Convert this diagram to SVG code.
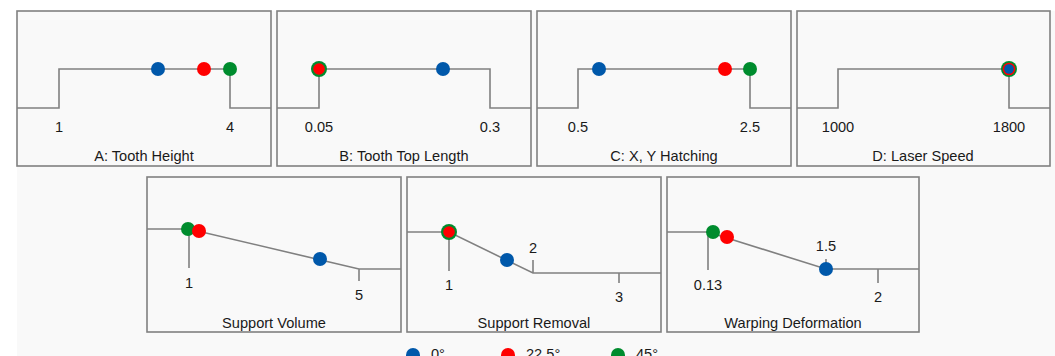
<svg xmlns="http://www.w3.org/2000/svg" width="1055" height="356" viewBox="0 0 1055 356">
<style>
.box{fill:#f9f9f9;stroke:#808080;stroke-width:1.6}
.ln{fill:none;stroke:#808080;stroke-width:1.6}
.t{font-family:"Liberation Sans",Arial,sans-serif;font-size:14.6px;fill:#1a1a1a;text-anchor:middle}
.b{fill:#0058aa}.r{fill:#ff0000}.g{fill:#008c2e}
</style>
<rect width="1055" height="356" fill="#ffffff"/>
<rect x="17" y="11" width="1038" height="345" fill="#f9f9f9"/>
<g id="panelA">
<rect class="box" x="17" y="11" width="254" height="155"/>
<text class="t" x="59" y="132">1</text><text class="t" x="230" y="132">4</text>
<text class="t" x="144" y="161">A: Tooth Height</text>
</g>
<g id="panelB">
<rect class="box" x="277" y="11" width="254" height="155"/>
<text class="t" x="319" y="132">0.05</text><text class="t" x="490" y="132">0.3</text>
<text class="t" x="404" y="161">B: Tooth Top Length</text>
</g>
<g id="panelC">
<rect class="box" x="537" y="11" width="254" height="155"/>
<text class="t" x="578" y="132">0.5</text><text class="t" x="750" y="132">2.5</text>
<text class="t" x="664" y="161">C: X, Y Hatching</text>
</g>
<g id="panelD">
<rect class="box" x="797" y="11" width="253" height="155"/>
<text class="t" x="838" y="132">1000</text><text class="t" x="1009" y="132">1800</text>
<text class="t" x="923" y="161">D: Laser Speed</text>
</g>
<g id="panelE">
<rect class="box" x="147" y="177" width="254" height="155"/>
<text class="t" x="189" y="288">1</text><text class="t" x="359" y="300">5</text>
<text class="t" x="274" y="328">Support Volume</text>
</g>
<g id="panelF">
<rect class="box" x="407" y="177" width="254" height="155"/>
<text class="t" x="449" y="290">1</text><text class="t" x="533" y="253">2</text><text class="t" x="619" y="302">3</text>
<text class="t" x="534" y="328">Support Removal</text>
</g>
<g id="panelG">
<rect class="box" x="667" y="177" width="252" height="155"/>
<text class="t" x="708" y="290">0.13</text><text class="t" x="826" y="251">1.5</text><text class="t" x="878" y="302">2</text>
<text class="t" x="793" y="328">Warping Deformation</text>
</g>
<g id="connectors">
<path class="ln" d="M17 108H59V69H230V108H271"/>
<path class="ln" d="M277 108H319V69H490V108H531"/>
<path class="ln" d="M537 108H578V69H750V108H791"/>
<path class="ln" d="M797 108H838V69H1009V108H1050"/>
<path class="ln" d="M147 229H189L359 269H401M189 229V268M359 269V281"/>
<path class="ln" d="M407 232H449L533 273H661M449 232V271M533 260V273M619 273V283"/>
<path class="ln" d="M667 232H708L826 269H919M708 232V270M826 259V269M878 269V283"/>
</g>
<g id="markers">
<circle class="b" cx="158" cy="69" r="7"/><circle class="r" cx="204" cy="69" r="7"/><circle class="g" cx="230" cy="69" r="7"/>
<circle class="g" cx="319" cy="69" r="8"/><circle class="r" cx="319" cy="69" r="5.8"/><circle class="b" cx="443" cy="69" r="7"/>
<circle class="b" cx="599" cy="69" r="7"/><circle class="r" cx="725" cy="69" r="7"/><circle class="g" cx="750" cy="69" r="7"/>
<circle class="g" cx="1009" cy="69" r="8"/><circle class="r" cx="1009" cy="69" r="6.3"/><circle class="b" cx="1009" cy="69" r="4.8"/>
<circle class="g" cx="188" cy="229" r="7"/><circle class="r" cx="199" cy="231" r="7"/><circle class="b" cx="320" cy="259" r="7"/>
<circle class="g" cx="449" cy="232" r="8"/><circle class="r" cx="449" cy="232" r="5.8"/><circle class="b" cx="507" cy="260" r="7"/>
<circle class="g" cx="713" cy="232" r="7"/><circle class="r" cx="727" cy="237" r="7"/><circle class="b" cx="826" cy="269" r="7"/>
</g>
<g id="legend">
<circle class="b" cx="413" cy="355" r="7"/><text class="t" x="431" y="359" style="text-anchor:start">0°</text>
<circle class="r" cx="508" cy="355" r="7"/><text class="t" x="526" y="359" style="text-anchor:start">22.5°</text>
<circle class="g" cx="618" cy="355" r="7"/><text class="t" x="636" y="359" style="text-anchor:start">45°</text>
</g>
</svg>
